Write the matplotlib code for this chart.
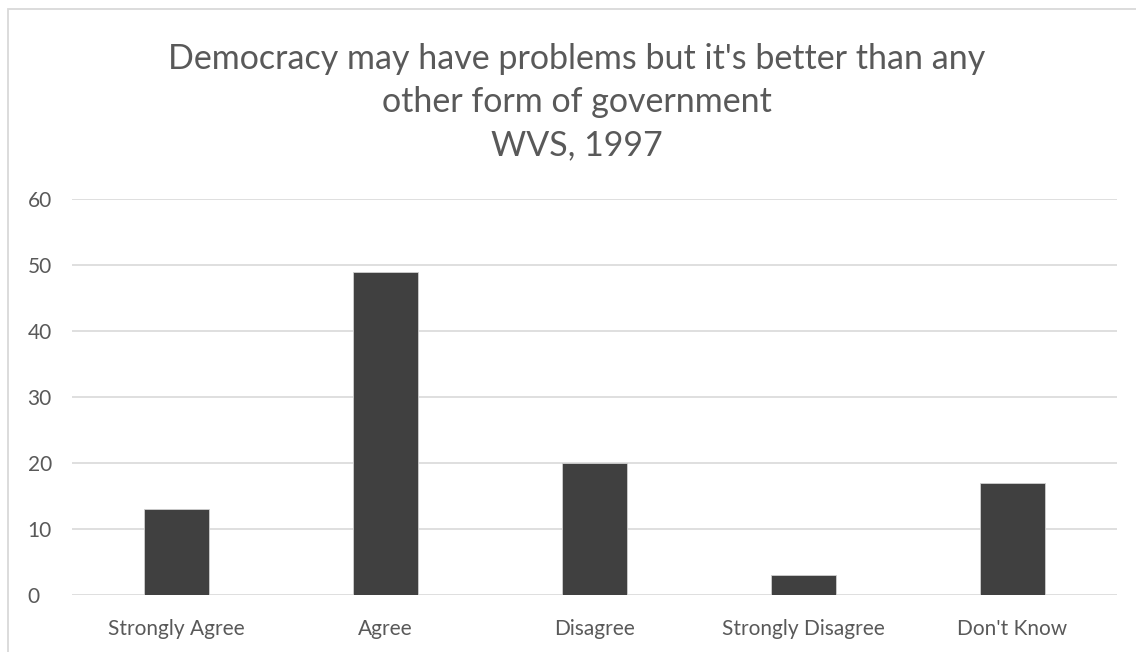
import matplotlib.pyplot as plt
from matplotlib.patches import Rectangle

categories = ['Strongly Agree', 'Agree', 'Disagree', 'Strongly Disagree', "Don't Know"]
values = [13, 49, 20, 3, 17]
yticks = [0, 10, 20, 30, 40, 50, 60]

plt.rcParams['font.family'] = ['Lato', 'DejaVu Sans']

W, H = 1136, 652
fig = plt.figure(figsize=(W / 100, H / 100), dpi=100)
fig.patch.set_facecolor('white')

# chart frame, cut off at right and bottom
fig.patches.append(Rectangle((8 / W, -0.1), 1.2, 1 - 9 / H + 0.1, transform=fig.transFigure,
                             fill=False, edgecolor='#d9d9d9', linewidth=1.3))

ax = fig.add_axes([72 / W, 1 - 595 / H, (1117 - 72) / W, (595 - 199) / H])
x = range(len(categories))
ax.bar(x, values, width=0.31, color='#404040', edgecolor='#d0d0d0', linewidth=0.6, zorder=3)
ax.set_xlim(-0.5, len(categories) - 0.5)
ax.set_ylim(0, 60)
ax.set_yticks(yticks)
ax.set_xticks(list(x))
ax.set_xticklabels(categories)
ax.grid(axis='y', color='#d9d9d9', linewidth=1.2, zorder=0)
for s in ax.spines.values():
    s.set_visible(False)
ax.tick_params(length=0, labelsize=15, colors='#595959')
ax.tick_params(axis='y', pad=32)
ax.tick_params(axis='x', pad=17)
for lbl in ax.get_yticklabels():
    lbl.set_horizontalalignment('left')

fig.text(577 / W, 1 - 102 / H, "Democracy may have problems but it's better than any\nother form of government\nWVS, 1997",
         ha='center', va='center', fontsize=24.5, color='#595959', linespacing=1.42)

fig.savefig('out.png', dpi=100)
